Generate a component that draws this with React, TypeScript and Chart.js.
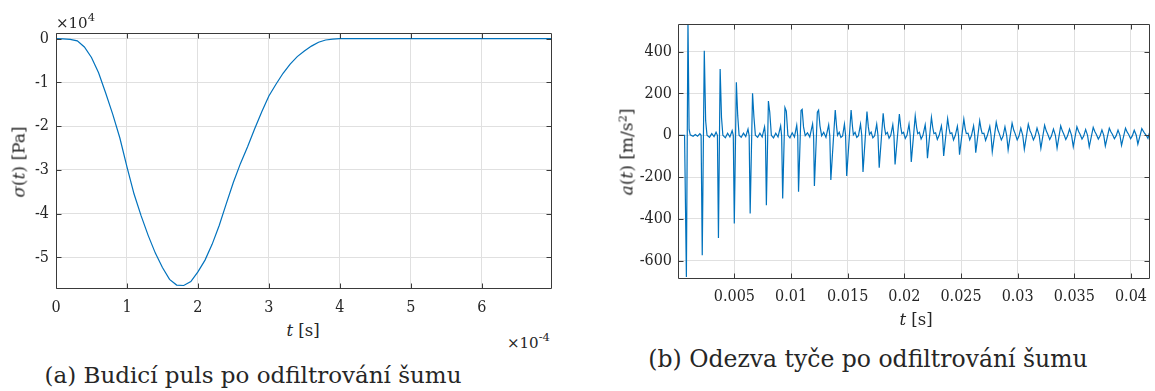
import React, { useEffect, useRef } from 'react';
import { Chart, registerables } from 'chart.js';

Chart.register(...registerables);

// ---------- (a) excitation pulse: time in 1e-4 s, stress in 1e4 Pa ----------
const pulseTime = [
  0, 0.1, 0.2, 0.3, 0.4, 0.5, 0.6, 0.7, 0.8, 0.9,
  1.0, 1.1, 1.2, 1.3, 1.4, 1.5, 1.6, 1.7, 1.8, 1.9,
  2.0, 2.1, 2.2, 2.3, 2.4, 2.5, 2.6, 2.7, 2.8, 2.9,
  3.0, 3.1, 3.2, 3.3, 3.4, 3.5, 3.6, 3.7, 3.8, 3.9,
  4.0, 5.0, 6.0, 7.0,
];
const pulseStress = [
  0, -0.005, -0.015, -0.05, -0.19, -0.43, -0.78, -1.24, -1.73, -2.27,
  -2.93, -3.55, -4.05, -4.5, -4.9, -5.23, -5.5, -5.63, -5.64, -5.55,
  -5.33, -5.06, -4.7, -4.27, -3.77, -3.28, -2.85, -2.47, -2.06, -1.67,
  -1.31, -1.04, -0.79, -0.58, -0.41, -0.28, -0.17, -0.08, -0.03, -0.01,
  0, 0, 0, 0,
];
const pulseXTicks = [0, 1, 2, 3, 4, 5, 6];
const pulseYTicks = [-5, -4, -3, -2, -1, 0];

// ---------- (b) rod response: time in ms, acceleration in m/s^2 ----------
const accelTimeMs = [
  0, 0.6,
  0.76, 0.90, 1.00, 1.10, 1.35, 1.55, 1.75, 1.95, 2.06,
  2.16, 2.34, 2.46, 2.58, 2.80, 3.00, 3.20, 3.38, 3.50,
  3.59, 3.74, 3.86, 3.98, 4.20, 4.40, 4.60, 4.80, 4.90,
  4.99, 5.17, 5.29, 5.41, 5.60, 5.80, 6.00, 6.20, 6.30,
  6.39, 6.60, 6.72, 6.85, 7.05, 7.25, 7.45, 7.66, 7.74,
  7.82, 8.00, 8.12, 8.26, 8.45, 8.65, 8.85, 9.08, 9.17,
  9.26, 9.46, 9.58, 9.72, 9.90, 10.10, 10.30, 10.50, 10.59,
  10.66, 10.88, 10.98, 11.10, 11.25, 11.45, 11.65, 11.90, 11.99,
  12.06, 12.32, 12.43, 12.55, 12.70, 12.88, 13.08, 13.32, 13.42,
  13.51, 13.90, 14.02, 14.10, 14.25, 14.40, 14.55, 14.71, 14.81,
  14.91, 15.30, 15.42, 15.50, 15.65, 15.80, 15.95, 16.13, 16.24,
  16.35, 16.70, 16.82, 16.92, 17.07, 17.22, 17.38, 17.56, 17.67,
  17.78, 18.13, 18.25, 18.35, 18.50, 18.65, 18.80, 18.98, 19.08,
  19.18, 19.56, 19.68, 19.78, 19.93, 20.08, 20.23, 20.41, 20.51,
  20.61, 20.96, 21.08, 21.18, 21.33, 21.48, 21.64, 21.84, 21.94,
  22.04, 22.39, 22.51, 22.61, 22.76, 22.91, 23.07, 23.27, 23.37,
  23.47, 23.82, 23.94, 24.04, 24.19, 24.34, 24.50, 24.68, 24.78,
  24.87, 25.25, 25.37, 25.47, 25.62, 25.77, 25.93, 26.11, 26.21,
  26.30, 26.65, 26.77, 26.87, 27.02, 27.17, 27.33, 27.54, 27.65,
  27.76, 28.11, 28.26, 28.38, 28.56, 28.71, 28.88, 29.03,
  29.16, 29.51, 29.66, 29.78, 29.96, 30.11, 30.28, 30.45,
  30.59, 30.94, 31.09, 31.21, 31.39, 31.54, 31.71, 31.90,
  32.05, 32.38, 32.53, 32.65, 32.83, 32.98, 33.16, 33.33,
  33.48, 33.80, 33.95, 34.07, 34.25, 34.40, 34.58, 34.76,
  34.91, 35.23, 35.38, 35.50, 35.68, 35.83, 36.00, 36.17,
  36.32, 36.67, 36.82, 36.94, 37.12, 37.27, 37.44, 37.60,
  37.74, 38.09, 38.24, 38.36, 38.54, 38.69, 38.86, 39.03,
  39.17, 39.52, 39.67, 39.79, 39.97, 40.12, 40.29, 40.47,
  40.61, 40.96, 41.20, 41.35, 41.50, 41.62, 41.75,
];
const accelValues = [
  0, 0,
  -678, 545, 28, 2, -5, 4, -4, 8, 0,
  -574, 404, 70, 0, -10, 8, -6, 15, 0,
  -491, 317, 85, 0, -12, 10, -8, 22, 0,
  -422, 254, 95, 0, -10, 10, -6, 30, -2,
  -374, 201, 89, 0, -10, 10, -8, 40, -4,
  -334, 164, 110, 0, -12, 10, -8, 45, -4,
  -302, 132, 115, 0, -12, 12, -8, 48, -4,
  -270, 118, 124, 40, -2, 12, -8, 54, -4,
  -242, 110, 120, 45, -2, 14, -10, 50, -4,
  -214, 121, 40, 0, 15, -10, -3, 53, 0,
  -194, 121, 42, 2, 14, -10, -2, 53, 0,
  -175, 113, 40, 4, 15, -12, -2, 53, 0,
  -155, 105, 38, 5, 14, -14, 0, 50, 0,
  -139, 101, 40, 8, 14, -15, 0, 53, 0,
  -127, 93, 38, 8, 14, -18, 0, 50, 0,
  -110, 86, 36, 8, 12, -20, 0, 45, 0,
  -99, 80, 34, 8, 12, -22, 0, 43, 0,
  -93, 77, 32, 8, 10, -22, 0, 45, 0,
  -83, 70, 30, 8, 10, -24, 0, 43, 0,
  -79, 62, 25, 8, -22, -5, 41, 0,
  -70, 58, 24, 8, -22, -5, 34, 0,
  -67, 53, 22, 8, -22, -5, 34, 0,
  -62, 48, 20, 6, -20, -4, 30, 0,
  -61, 45, 20, 6, -20, -4, 30, 0,
  -55, 41, 18, 6, -18, -4, 28, 0,
  -55, 38, 17, 5, -18, -3, 26, 0,
  -51, 34, 16, 5, -16, -3, 25, 0,
  -48, 34, 15, 5, -16, -3, 24, 0,
  -42, 32, 10, 0, -15, 10, 12,
];
const accelXTicks = [0.005, 0.01, 0.015, 0.02, 0.025, 0.03, 0.035, 0.04];
const accelYTicks = [-600, -400, -200, 0, 200, 400];

const captionA = '(a) Budicí puls po odfiltrování šumu';
const captionB = '(b) Odezva tyče po odfiltrování šumu';

// ---------- styling ----------
const TICK_FAMILY = '"DejaVu Serif Condensed", "DejaVu Serif", serif';
const SERIF = '"DejaVu Serif", serif';
const LINE = '#0072BD';
const GRID = '#e0e0e0';
const AXIS = '#3a3a3a';
const TEXT = '#262626';

const boxPlugin = {
  id: 'matlabBox',
  afterDatasetsDraw(chart: any) {
    const { ctx, chartArea, scales } = chart;
    const l = Math.round(chartArea.left) + 0.5;
    const r = Math.round(chartArea.right) - 0.5;
    const t = Math.round(chartArea.top) + 0.5;
    const b = Math.round(chartArea.bottom) - 0.5;
    const tl = 5;
    ctx.save();
    ctx.strokeStyle = AXIS;
    ctx.lineWidth = 1;
    ctx.beginPath();
    ctx.rect(l, t, r - l, b - t);
    scales.x.ticks.forEach((tk: any) => {
      const px = Math.round(scales.x.getPixelForValue(tk.value)) + 0.5;
      ctx.moveTo(px, b);
      ctx.lineTo(px, b - tl);
      ctx.moveTo(px, t);
      ctx.lineTo(px, t + tl);
    });
    scales.y.ticks.forEach((tk: any) => {
      const py = Math.round(scales.y.getPixelForValue(tk.value)) + 0.5;
      ctx.moveTo(l, py);
      ctx.lineTo(l + tl, py);
      ctx.moveTo(r, py);
      ctx.lineTo(r - tl, py);
    });
    ctx.stroke();
    ctx.restore();
  },
};

type Cfg = {
  xs: number[];
  ys: number[];
  xMin: number;
  xMax: number;
  yMin: number;
  yMax: number;
  xTicks: number[];
  yTicks: number[];
  fmtX: (v: number) => string;
  yWidth: number;
  xHeight: number;
  padding: { top: number; right: number; bottom: number; left: number };
  xPad: number;
  yPad: number;
};

function makeConfig(c: Cfg): any {
  const tickFont = { family: TICK_FAMILY, size: 16 };
  return {
    type: 'line',
    data: {
      datasets: [
        {
          data: c.xs.map((x, i) => ({ x, y: c.ys[i] })),
          borderColor: LINE,
          borderWidth: 1.2,
          pointRadius: 0,
          fill: false,
          tension: 0,
        },
      ],
    },
    options: {
      animation: false,
      responsive: false,
      events: [],
      layout: { padding: c.padding },
      plugins: { legend: { display: false }, tooltip: { enabled: false } },
      scales: {
        x: {
          type: 'linear',
          min: c.xMin,
          max: c.xMax,
          afterBuildTicks: (s: any) => {
            s.ticks = c.xTicks.map((v) => ({ value: v }));
          },
          afterFit: (s: any) => {
            s.height = c.xHeight;
          },
          grid: { color: GRID, lineWidth: 1, drawTicks: false },
          border: { display: false },
          ticks: {
            padding: c.xPad,
            color: TEXT,
            font: tickFont,
            maxRotation: 0,
            autoSkip: false,
            callback: (v: number) => c.fmtX(v),
          },
        },
        y: {
          type: 'linear',
          min: c.yMin,
          max: c.yMax,
          afterBuildTicks: (s: any) => {
            s.ticks = c.yTicks.map((v) => ({ value: v }));
          },
          afterFit: (s: any) => {
            s.width = c.yWidth;
          },
          grid: { color: GRID, lineWidth: 1, drawTicks: false },
          border: { display: false },
          ticks: {
            padding: c.yPad,
            color: TEXT,
            font: tickFont,
            autoSkip: false,
            callback: (v: number) => String(v),
          },
        },
      },
    },
    plugins: [boxPlugin],
  };
}

const Centered = ({ x, y, size, rotate, family, children }: any) => (
  <div
    style={{
      position: 'absolute',
      left: x,
      top: y,
      transform: `translate(-50%, -50%)${rotate ? ' rotate(-90deg)' : ''}`,
      fontFamily: family || SERIF,
      fontSize: size,
      lineHeight: 1,
      whiteSpace: 'nowrap',
      color: TEXT,
    }}
  >
    {children}
  </div>
);

// "×10^n" placed by left edge and baseline
const Exponent = ({ x, baseline, exp }: any) => {
  const fs = 15;
  return (
    <div
      style={{
        position: 'absolute',
        left: x,
        top: baseline - 0.85 * fs,
        fontFamily: SERIF,
        fontSize: fs,
        lineHeight: 1,
        whiteSpace: 'nowrap',
        color: TEXT,
      }}
    >
      ×10
      <span style={{ fontSize: 11.5, position: 'relative', top: -7 }}>{exp}</span>
    </div>
  );
};

export default function App() {
  const leftRef = useRef<HTMLCanvasElement>(null);
  const rightRef = useRef<HTMLCanvasElement>(null);

  useEffect(() => {
    const left = new Chart(
      leftRef.current as HTMLCanvasElement,
      makeConfig({
        xs: pulseTime,
        ys: pulseStress,
        xMin: 0,
        xMax: 6.99,
        yMin: -5.72,
        yMax: 0.13,
        xTicks: pulseXTicks,
        yTicks: pulseYTicks,
        fmtX: (v) => String(v),
        yWidth: 56,
        xHeight: 31,
        padding: { top: 33, right: 28, bottom: 0, left: 0 },
        xPad: 9,
        yPad: 7,
      })
    );
    const right = new Chart(
      rightRef.current as HTMLCanvasElement,
      makeConfig({
        xs: accelTimeMs.map((t) => t / 1000),
        ys: accelValues,
        xMin: 0.00002,
        xMax: 0.04168,
        yMin: -687,
        yMax: 532,
        xTicks: accelXTicks,
        yTicks: accelYTicks,
        fmtX: (v) => String(Number(v.toFixed(3))),
        yWidth: 78,
        xHeight: 41,
        padding: { top: 24, right: 1, bottom: 0, left: 0 },
        xPad: 8,
        yPad: 6,
      })
    );
    return () => {
      left.destroy();
      right.destroy();
    };
  }, []);

  return (
    <div style={{ position: 'relative', width: 1155, height: 391, overflow: 'hidden', background: '#fff' }}>
      <style>{'html,body{margin:0;padding:0;background:#fff;}'}</style>
      <canvas
        ref={leftRef}
        width={580}
        height={320}
        style={{ position: 'absolute', left: 0, top: 0, width: 580, height: 320 }}
      />
      <canvas
        ref={rightRef}
        width={555}
        height={320}
        style={{ position: 'absolute', left: 600, top: 0, width: 555, height: 320 }}
      />

      {/* left chart texts */}
      <Exponent x={56} baseline={29} exp="4" />
      <Exponent x={507} baseline={349} exp="-4" />
      <Centered x={19} y={162} size={17} rotate>
        <i>σ</i>(<i>t</i>) [Pa]
      </Centered>
      <Centered x={303} y={331} size={16.5}>
        <i>t</i> [s]
      </Centered>

      {/* right chart texts */}
      <Centered x={627} y={152} size={17} rotate>
        <i>a</i>(<i>t</i>) [m/s<span style={{ fontSize: 11.5, position: 'relative', top: -6 }}>2</span>]
      </Centered>
      <Centered x={916} y={320} size={16.5}>
        <i>t</i> [s]
      </Centered>

      {/* captions */}
      <Centered x={253} y={375} size={23} family={SERIF}>
        {captionA}
      </Centered>
      <Centered x={868} y={360} size={23.5} family={SERIF}>
        {captionB}
      </Centered>
    </div>
  );
}
